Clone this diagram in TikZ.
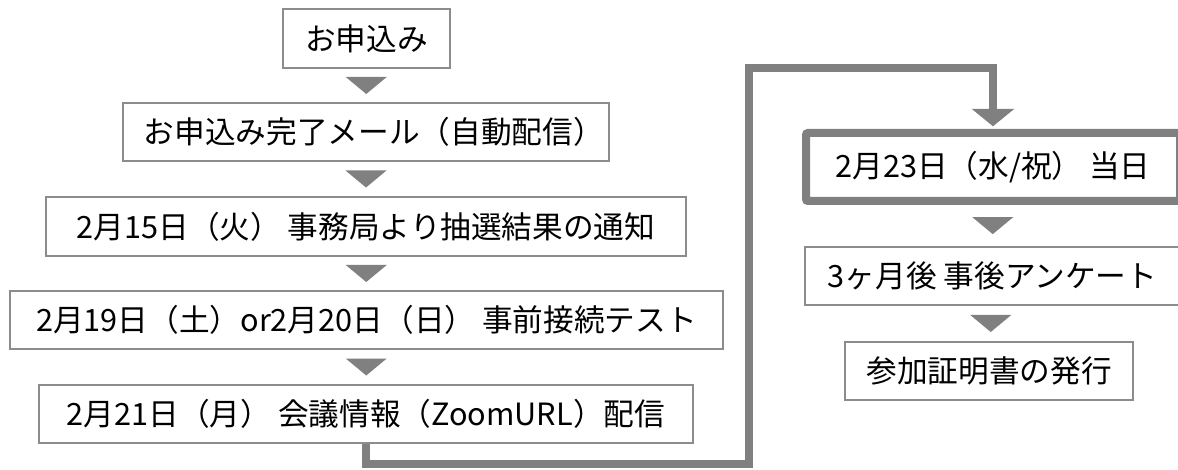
\documentclass[tikz,border=0pt]{standalone}
\usepackage{fontspec}
\setmainfont{Noto Sans CJK JP}
\usepackage{tikz}
\usetikzlibrary{arrows.meta,calc}
\definecolor{boxgray}{HTML}{8C8C8C}
\definecolor{linkgray}{HTML}{808080}

\begin{document}
\begin{tikzpicture}[x=0.75pt,y=-0.75pt,
                    font=\fontsize{23}{28}\selectfont]
  \tikzstyle{stepbox}=[rectangle,draw=boxgray,line width=1.1pt,fill=white,
                       inner sep=0pt,minimum height=43.5pt,text=black]
  \tikzstyle{daybox}=[stepbox,draw=linkgray,line width=6pt,rounded corners=1.5pt,
                      minimum height=51pt]
  \tikzstyle{tri}=[fill=linkgray]
  \tikzstyle{link}=[draw=linkgray,line width=6pt,
                    -{Triangle[width=31pt,length=13pt]},shorten >=2pt]

  \useasboundingbox (0,0) rectangle (1178,470);

  % left column
  \node[stepbox,minimum width=125.25pt,minimum height=44.25pt] (apply) at (366.5,38.5) {お申込み};
  \node[stepbox,minimum width=364.5pt]  (mail)   at (366,132)   {お申込み完了メール（自動配信\addfontfeatures{RawFeature=+halt}）};
  \node[stepbox,minimum width=480pt,minimum height=44.25pt] (lottery) at (366,226.5) {2月15日（火） 事務局より抽選結果の通知};
  \node[stepbox,minimum width=534.75pt] (test)   at (366.5,320) {2月19日（土）or2月20日（日） 事前接続テスト};
  \node[stepbox,minimum width=490.5pt]  (zoom)   at (366,414)   {2月21日（月） 会議情報（ZoomURL）配信};

  % right column
  \node[daybox,minimum width=280.5pt]   (day)    at (993,167)   {2月23日（水/祝） 当日};
  \node[stepbox,minimum width=281.25pt] (survey) at (992.5,276) {3ヶ月後 事後アンケート};
  \node[stepbox,minimum width=216pt]    (cert)   at (989,371)   {参加証明書の発行};

  \coordinate (turnA) at (749,464);
  \coordinate (turnB) at (749,68);

  \foreach \a/\b in {apply/mail,mail/lottery,lottery/test,test/zoom,day/survey,survey/cert}
    \fill[tri] ($(\a.south)!.5!(\b.north)$) +(-20.5,-8.5) -- +(20.5,-8.5) -- +(0,8.5) -- cycle;

  \draw[link] (zoom.south) |- (turnA) -- (turnB) -| (day.north);
\end{tikzpicture}
\end{document}
